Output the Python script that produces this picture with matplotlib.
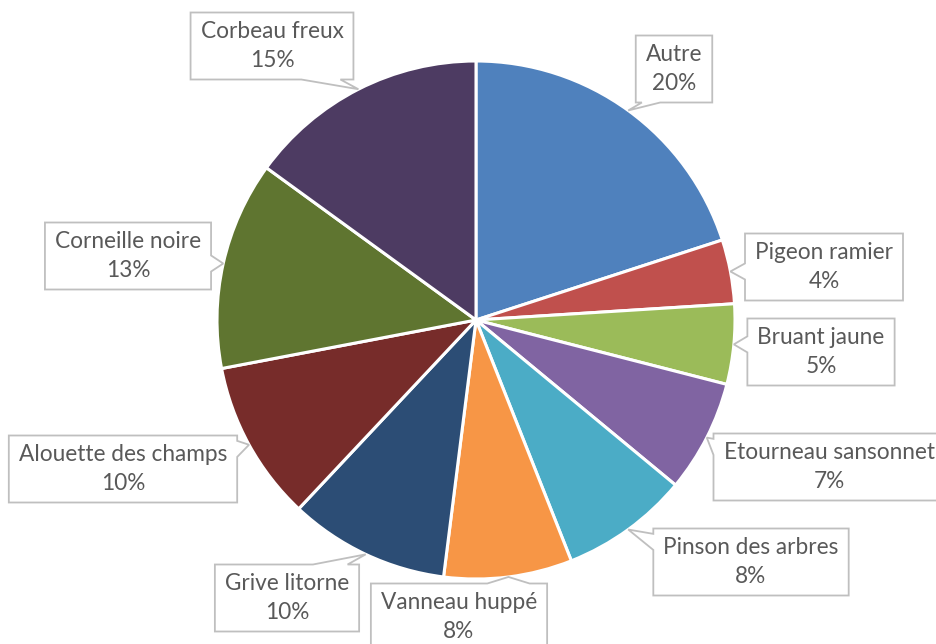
import numpy as np
import matplotlib
matplotlib.use("Agg")
import matplotlib.pyplot as plt
from matplotlib.patches import Polygon

# Species share of observations
species = ["Autre", "Pigeon ramier", "Bruant jaune", "Etourneau sansonnet",
           "Pinson des arbres", "Vanneau huppé", "Grive litorne",
           "Alouette des champs", "Corneille noire", "Corbeau freux"]
shares = [20, 4, 5, 7, 8, 8, 10, 10, 13, 15]
colors = ["#4F81BD", "#C0504D", "#9BBB59", "#8064A2", "#4BACC6",
          "#F79646", "#2C4D75", "#772C2A", "#5F7530", "#4D3B62"]

# Layout (pixel units, origin bottom-left)
W, H = 936, 644
CX, CY, R = 476, H - 320, 259
label_centers = [(674, H - 69), (824, H - 267), (821, H - 352), (829, H - 467),
                 (751, H - 562), (459, H - 617), (287, H - 598),
                 (123, H - 469), (128, H - 256), (272, H - 46)]

plt.rcParams["font.family"] = ["Lato", "DejaVu Sans"]

fig = plt.figure(figsize=(W / 100, H / 100), dpi=100)
ax = fig.add_axes([0, 0, 1, 1])
wedges, _ = ax.pie(shares, colors=colors, startangle=90, counterclock=False,
                   center=(CX, CY), radius=R,
                   wedgeprops=dict(edgecolor="white", linewidth=2.2))
ax.set_xlim(0, W)
ax.set_ylim(0, H)
ax.set_aspect("equal")
ax.axis("off")

total = sum(shares)
texts = []
for name, val, (tx, ty) in zip(species, shares, label_centers):
    t = ax.text(tx, ty, f"{name}\n{val / total * 100:.0f}%", ha="center",
                va="center", fontsize=16.3, color="#595959", linespacing=1.45,
                zorder=5)
    texts.append(t)

fig.canvas.draw()
renderer = fig.canvas.get_renderer()
inv = ax.transData.inverted()

cum = np.cumsum([0] + shares[:-1])
padx = 10
for w, t, start, val in zip(wedges, texts, cum, shares):
    bb = t.get_window_extent(renderer)
    (x0, y0), (x1, y1) = inv.transform([[bb.x0, bb.y0], [bb.x1, bb.y1]])
    x0 -= padx
    x1 += padx
    cyb = (y0 + y1) / 2
    y0, y1 = cyb - 33.5, cyb + 33.5
    # pointer tip on the arc at the slice's mid angle
    ang = np.deg2rad(90 - (start + val / 2) / total * 360)
    tipx, tipy = CX + R * np.cos(ang), CY + R * np.sin(ang)

    def base(a, b, p):
        L = b - a
        c = np.clip(p, a + 0.2 * L, b - 0.2 * L)
        return c - 0.12 * L, c + 0.12 * L

    if tipy < y0:      # below the box
        b0, b1 = base(x0, x1, tipx)
        pts = [(x0, y1), (x1, y1), (x1, y0), (b1, y0), (tipx, tipy), (b0, y0), (x0, y0)]
    elif tipy > y1:    # above the box
        b0, b1 = base(x0, x1, tipx)
        pts = [(x0, y0), (x1, y0), (x1, y1), (b1, y1), (tipx, tipy), (b0, y1), (x0, y1)]
    elif tipx < x0:    # left of the box
        b0, b1 = base(y0, y1, tipy)
        pts = [(x0, y1), (x1, y1), (x1, y0), (x0, y0), (x0, b0), (tipx, tipy), (x0, b1)]
    else:              # right of the box
        b0, b1 = base(y0, y1, tipy)
        pts = [(x0, y1), (x0, y0), (x1, y0), (x1, b0), (tipx, tipy), (x1, b1), (x1, y1)]
    ax.add_patch(Polygon(pts, closed=True, facecolor="white", edgecolor="#BFBFBF",
                         linewidth=1.3, zorder=4, joinstyle="miter"))

fig.savefig("out.png", dpi=100, facecolor="white")
